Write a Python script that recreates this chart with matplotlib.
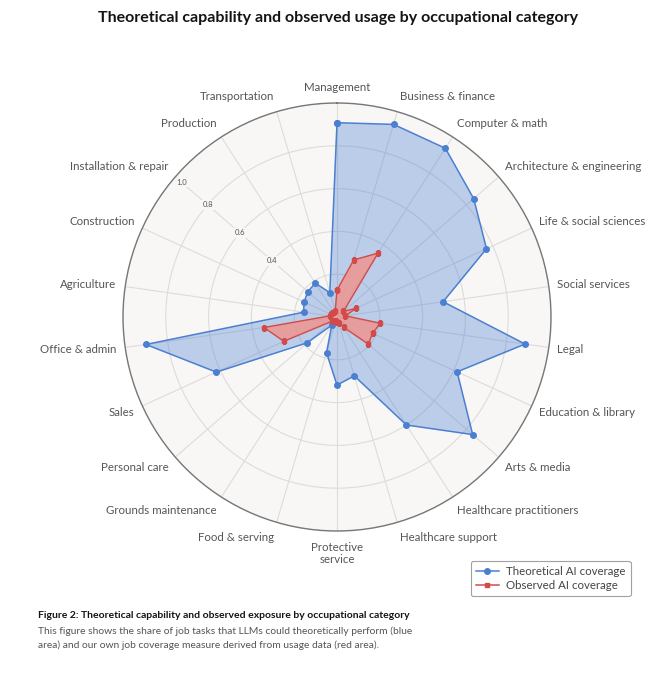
import numpy as np
import matplotlib.pyplot as plt
from matplotlib.lines import Line2D

plt.rcParams['font.family'] = ['Lato', 'DejaVu Sans']

CATEGORIES = ["Management", "Business & finance", "Computer & math",
              "Architecture & engineering", "Life & social sciences",
              "Social services", "Legal", "Education & library",
              "Arts & media", "Healthcare practitioners", "Healthcare support",
              "Protective\nservice", "Food & serving", "Grounds maintenance",
              "Personal care", "Sales", "Office & admin", "Agriculture",
              "Construction", "Installation & repair", "Production",
              "Transportation"]
THEORETICAL = [0.908, 0.938, 0.937, 0.845, 0.768, 0.501, 0.888, 0.617,
               0.839, 0.600, 0.287, 0.318, 0.174, 0.045, 0.184, 0.620,
               0.902, 0.158, 0.169, 0.181, 0.188, 0.119]
OBSERVED = [0.126, 0.278, 0.355, 0.040, 0.100, 0.040, 0.204, 0.183,
            0.194, 0.057, 0.030, 0.025, 0.020, 0.020, 0.030, 0.273,
            0.345, 0.035, 0.030, 0.030, 0.030, 0.030]
RING_TICKS = [0.2, 0.4, 0.6, 0.8, 1.0]
RING_LABELS = [0.4, 0.6, 0.8, 1.0]

BLUE = "#4a7fd1"
RED = "#d24b4b"
BG = "#f8f7f5"
LABEL_GREY = "#555555"

n = len(CATEGORIES)
theta = np.arange(n) * 2 * np.pi / n
th_closed = np.append(theta, theta[0])

fig = plt.figure(figsize=(6.7, 6.8), dpi=100)
R = 214
ax = fig.add_axes([(337 - R) / 670, (680 - 317 - R) / 680, 2 * R / 670, 2 * R / 680],
                  projection="polar")
ax.set_theta_zero_location("N")
ax.set_theta_direction(-1)
ax.set_ylim(0, 1.0)
ax.set_facecolor(BG)
ax.set_axisbelow(True)

ax.set_xticks(theta)
ax.set_xticklabels([])
ax.set_yticks(RING_TICKS)
ax.set_yticklabels([])
ax.grid(True, color="#dddcd9", linewidth=0.8)
ax.spines["polar"].set_color("#777777")
ax.spines["polar"].set_linewidth(1.0)

# theoretical (blue) area
t_vals = np.append(THEORETICAL, THEORETICAL[0])
ax.fill(th_closed, t_vals, color=BLUE, alpha=0.35, lw=0, zorder=2)
ax.plot(th_closed, t_vals, color=BLUE, lw=1.1, marker="o", ms=4, zorder=3)

# observed (red) area
o_vals = np.append(OBSERVED, OBSERVED[0])
ax.fill(th_closed, o_vals, color="#ea9896", alpha=0.9, lw=0, zorder=4)
ax.plot(th_closed, o_vals, color=RED, lw=1.0, marker="s", ms=3.2, zorder=5)

# ring labels along the "Installation & repair" spoke
lab_th = theta[CATEGORIES.index("Installation & repair")]
for v in RING_LABELS:
    ax.text(lab_th, min(v, 0.96), f"{v:.1f}", fontsize=5.5, color="#555555",
            ha="center", va="center", zorder=6,
            bbox=dict(boxstyle="square,pad=0.15", fc=BG, ec="none"))

# category labels outside the circle
for ang, name in zip(theta, CATEGORIES):
    sx, cy = np.sin(ang), np.cos(ang)
    ha = "center" if abs(sx) < 0.1 else ("left" if sx > 0 else "right")
    h = 10 * (name.count("\n") + 1)
    ax.annotate(name, (ang, 1.04), xytext=(0, 0.5 * cy * h),
                textcoords="offset points", ha=ha, va="center",
                fontsize=8.3, color=LABEL_GREY, linespacing=1.05,
                annotation_clip=False)

fig.text(0.504, 1 - 18 / 680, "Theoretical capability and observed usage by occupational category",
         ha="center", va="center", fontsize=11.5, weight="bold", color="#141414")

handles = [Line2D([], [], color=BLUE, marker="o", ms=4, lw=1.1),
           Line2D([], [], color=RED, marker="s", ms=3.2, lw=1.1)]
leg = fig.legend(handles, ["Theoretical AI coverage", "Observed AI coverage"],
                 loc="upper left", bbox_to_anchor=(465 / 670, 1 - 555 / 680),
                 fontsize=8.3, frameon=True, handlelength=2.0,
                 borderpad=0.45, labelspacing=0.25, handletextpad=0.6)
leg.get_frame().set_edgecolor("#8a8a8a")
leg.get_frame().set_linewidth(0.8)
for t in leg.get_texts():
    t.set_color("#444444")

fig.text(38 / 670, 1 - 616 / 680,
         "Figure 2: Theoretical capability and observed exposure by occupational category",
         ha="left", va="center", fontsize=7.5, weight="bold", color="#141414")
fig.text(38 / 670, 1 - 626 / 680,
         "This figure shows the share of job tasks that LLMs could theoretically perform (blue\n"
         "area) and our own job coverage measure derived from usage data (red area).",
         ha="left", va="top", fontsize=7.4, color="#555555", linespacing=1.65)

fig.savefig("out.png", dpi=100, facecolor="white")
